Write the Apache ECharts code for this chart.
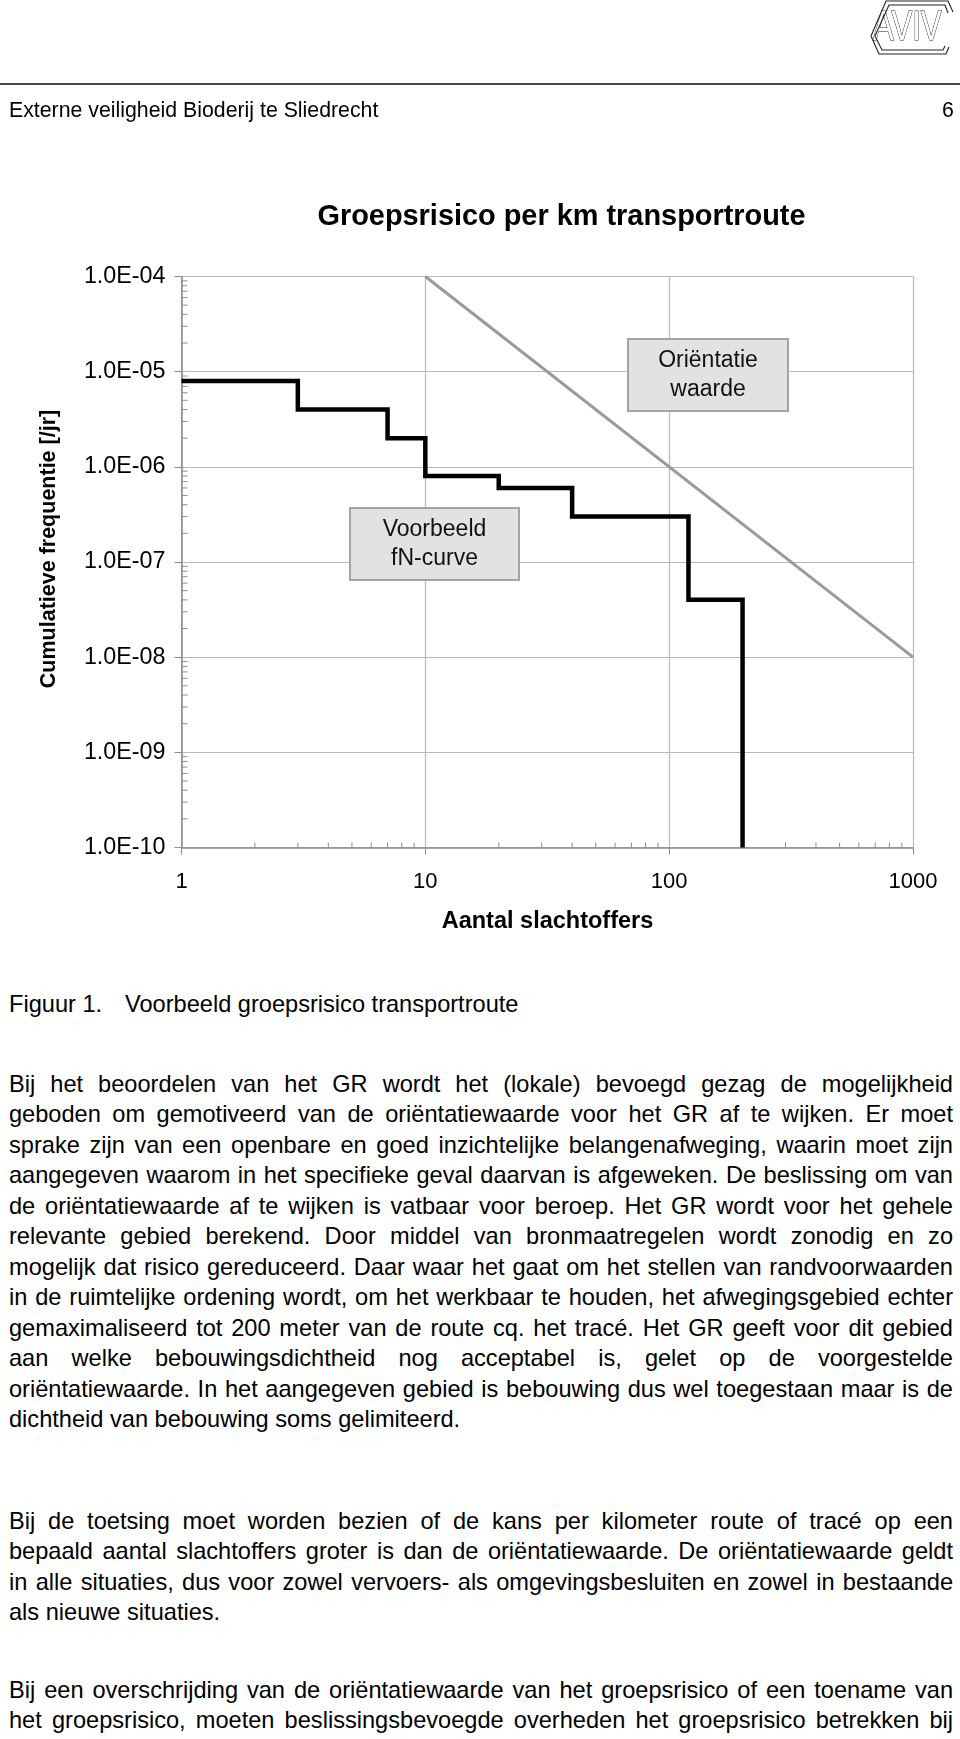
<!DOCTYPE html>
<html>
<head>
<meta charset="utf-8">
<script src="https://cdn.jsdelivr.net/npm/echarts@6/dist/echarts.min.js"></script>
<style>
  html, body { margin: 0; padding: 0; background: #fff; }
  body { width: 960px; height: 1739px; position: relative; overflow: hidden;
         font-family: "Liberation Sans", Arial, Helvetica, sans-serif; color: #000; }
  #chart { position: absolute; left: 0; top: 0; width: 960px; height: 960px; }
  .hdrline { position: absolute; left: 0; top: 83px; width: 960px; height: 2px; background: #444; }
  .hdr { position: absolute; top: 97px; font-size: 21.3px; line-height: 26px; white-space: nowrap; }
  .para { position: absolute; left: 9px; width: 944px; font-size: 23.6px; line-height: 30.45px; }
  .para div { white-space: nowrap; }
  .para .j { text-align: justify; text-align-last: justify; }
  .fig { position: absolute; top: 989px; font-size: 23.6px; line-height: 30.4px; white-space: nowrap; }
</style>
</head>
<body>
<div id="chart"></div>
<div class="hdrline"></div>
<div class="hdr" style="left:9px">Externe veiligheid Bioderij te Sliedrecht</div>
<div class="hdr" style="left:942px">6</div>
<div class="fig" style="left:9px">Figuur 1.</div>
<div class="fig" style="left:125px">Voorbeeld groepsrisico transportroute</div>

<div class="para" style="top:1069px">
  <div class="j">Bij het beoordelen van het GR wordt het (lokale) bevoegd gezag de mogelijkheid</div>
  <div class="j">geboden om gemotiveerd van de oriëntatiewaarde voor het GR af te wijken. Er moet</div>
  <div class="j">sprake zijn van een openbare en goed inzichtelijke belangenafweging, waarin moet zijn</div>
  <div class="j">aangegeven waarom in het specifieke geval daarvan is afgeweken. De beslissing om van</div>
  <div class="j">de oriëntatiewaarde af te wijken is vatbaar voor beroep. Het GR wordt voor het gehele</div>
  <div class="j">relevante gebied berekend. Door middel van bronmaatregelen wordt zonodig en zo</div>
  <div class="j">mogelijk dat risico gereduceerd. Daar waar het gaat om het stellen van randvoorwaarden</div>
  <div class="j">in de ruimtelijke ordening wordt, om het werkbaar te houden, het afwegingsgebied echter</div>
  <div class="j">gemaximaliseerd tot 200 meter van de route cq. het tracé. Het GR geeft voor dit gebied</div>
  <div class="j">aan welke bebouwingsdichtheid nog acceptabel is, gelet op de voorgestelde</div>
  <div class="j">oriëntatiewaarde. In het aangegeven gebied is bebouwing dus wel toegestaan maar is de</div>
  <div>dichtheid van bebouwing soms gelimiteerd.</div>
</div>

<div class="para" style="top:1506px">
  <div class="j">Bij de toetsing moet worden bezien of de kans per kilometer route of tracé op een</div>
  <div class="j">bepaald aantal slachtoffers groter is dan de oriëntatiewaarde. De oriëntatiewaarde geldt</div>
  <div class="j">in alle situaties, dus voor zowel vervoers- als omgevingsbesluiten en zowel in bestaande</div>
  <div>als nieuwe situaties.</div>
</div>

<div class="para" style="top:1674.5px">
  <div class="j">Bij een overschrijding van de oriëntatiewaarde van het groepsrisico of een toename van</div>
  <div class="j">het groepsrisico, moeten beslissingsbevoegde overheden het groepsrisico betrekken bij</div>
</div>

<script>
// ---- data ----
const chartTitle = 'Groepsrisico per km transportroute';
const xAxisTitle = 'Aantal slachtoffers';
const yAxisTitle = 'Cumulatieve frequentie [/jr]';

// fN-curve (step): number of victims N and cumulative frequency from that N on
const fnN = [1, 3, 7, 10, 20, 40, 120, 200];
const fnF = [8e-6, 4e-6, 2e-6, 8e-7, 6e-7, 3e-7, 4e-8, 1e-10];

// Oriëntatiewaarde line
const owN = [10, 1000];
const owF = [1e-4, 1e-8];

// axis tick labels
const xTickLabels = ['1', '10', '100', '1000'];
const yTickLabels = ['1.0E-10', '1.0E-09', '1.0E-08', '1.0E-07', '1.0E-06', '1.0E-05', '1.0E-04'];
const xDecades = [1, 10, 100];
const yDecades = [1e-10, 1e-9, 1e-8, 1e-7, 1e-6, 1e-5];
const minorMultipliers = [2, 3, 4, 5, 6, 7, 8, 9];

// box labels
const fnBoxLines = ['Voorbeeld', 'fN-curve'];
const owBoxLines = ['Oriëntatie', 'waarde'];

// ---- build ----
const FONT = '"Liberation Sans", Arial, Helvetica, sans-serif';
const xMin = 1, xMax = 1000, yMin = 1e-10, yMax = 1e-4;

const fnData = fnN.map((n, i) => [n, fnF[i]]);
const owData = owN.map((n, i) => [n, owF[i]]);
const yMinorData = [];
yDecades.forEach(d => minorMultipliers.forEach(m => yMinorData.push([xMin, d * m])));
const xMinorData = [];
xDecades.forEach(d => minorMultipliers.forEach(m => xMinorData.push([d * m, yMin])));

const chart = echarts.init(document.getElementById('chart'), null, { renderer: 'canvas' });

function boxGraphic(x, y, w, h, lines, lineH) {
  const children = [{
    type: 'rect', z: 100, shape: { x: x, y: y, width: w, height: h },
    style: { fill: '#e2e2e2', stroke: '#a3a3a3', lineWidth: 2 }
  }];
  const cy = y + h / 2;
  lines.forEach((t, i) => {
    children.push({
      type: 'text', z: 101, x: x + w / 2, y: cy + (i - (lines.length - 1) / 2) * lineH,
      style: { text: t, font: '23px ' + FONT, fill: '#111', align: 'center', verticalAlign: 'middle' }
    });
  });
  return { type: 'group', children: children };
}

const option = {
  animation: false,
  backgroundColor: 'transparent',
  grid: { left: 181.5, right: 47, top: 276.5, bottom: 112.5, containLabel: false },
  xAxis: {
    type: 'log', logBase: 10, min: xMin, max: xMax,
    axisLine: { show: true, lineStyle: { color: '#8c8c8c', width: 1.5 } },
    axisTick: { show: true, length: 7, inside: false, lineStyle: { color: '#8c8c8c' } },
    axisLabel: {
      margin: 23, color: '#000', fontSize: 22, fontFamily: FONT,
      formatter: v => xTickLabels[Math.round(Math.log10(v))]
    },
    splitLine: { show: true, lineStyle: { color: '#b9b9b9', width: 1.2 } },
    minorTick: { show: false }
  },
  yAxis: {
    type: 'log', logBase: 10, min: yMin, max: yMax,
    axisLine: { show: true, lineStyle: { color: '#8c8c8c', width: 1.5 } },
    axisTick: { show: true, length: 7, inside: false, lineStyle: { color: '#8c8c8c' } },
    axisLabel: {
      margin: 16, color: '#000', fontSize: 23.3, fontFamily: FONT,
      formatter: v => yTickLabels[Math.round(Math.log10(v)) + 10]
    },
    splitLine: { show: true, lineStyle: { color: '#b9b9b9', width: 1.2 } }
  },
  series: [
    {
      name: 'Oriëntatiewaarde', type: 'line', data: owData, symbol: 'none',
      lineStyle: { color: '#9a9a9a', width: 3 }, z: 5, clip: false
    },
    {
      name: 'fN-curve', type: 'line', step: 'end', data: fnData, symbol: 'none',
      lineStyle: { color: '#000', width: 4.5, join: 'miter', cap: 'butt' }, z: 6, clip: false
    },
    {
      name: 'yMinor', type: 'custom', data: yMinorData, silent: true, clip: false, z: 3,
      renderItem: (params, api) => {
        const p = api.coord([api.value(0), api.value(1)]);
        return { type: 'line', shape: { x1: p[0], y1: p[1], x2: p[0] + 6, y2: p[1] },
                 style: { stroke: '#8c8c8c', lineWidth: 1 } };
      }
    },
    {
      name: 'xMinor', type: 'custom', data: xMinorData, silent: true, clip: false, z: 3,
      renderItem: (params, api) => {
        const p = api.coord([api.value(0), api.value(1)]);
        return { type: 'line', shape: { x1: p[0], y1: p[1], x2: p[0], y2: p[1] - 5 },
                 style: { stroke: '#8c8c8c', lineWidth: 1 } };
      }
    }
  ],
  graphic: [
    { type: 'text', x: 561.5, y: 217, z: 60,
      style: { text: chartTitle, font: 'bold 28.9px ' + FONT, fill: '#000', align: 'center', verticalAlign: 'middle' } },
    { type: 'text', x: 547.5, y: 922, z: 60,
      style: { text: xAxisTitle, font: 'bold 23.5px ' + FONT, fill: '#000', align: 'center', verticalAlign: 'middle' } },
    { type: 'text', x: 49, y: 549, rotation: Math.PI / 2, z: 60,
      style: { text: yAxisTitle, font: 'bold 21.5px ' + FONT, fill: '#000', align: 'center', verticalAlign: 'middle' } },
    boxGraphic(350, 508, 169, 72, fnBoxLines, 29.5),
    boxGraphic(628, 339, 160, 72, owBoxLines, 28.5),
    // AVIV logo
    { type: 'group', children: [
      { type: 'text', z: 60, x: 873, y: 28, scaleX: 0.74,
        style: { text: 'AVIV', font: '42px ' + FONT, fill: '#fff', stroke: '#222', lineWidth: 1.1,
                 align: 'left', verticalAlign: 'middle' } },
      { type: 'polyline', z: 60, shape: { points: [[953, 12], [948, 1], [886, 1], [871, 36], [879, 54], [946, 54], [949, 47]] },
        style: { stroke: '#222', lineWidth: 1.1, fill: null } },
      { type: 'polyline', z: 60, shape: { points: [[948, 13], [945, 5], [889, 5], [875, 36], [882, 50], [943, 50], [945, 46]] },
        style: { stroke: '#222', lineWidth: 1.1, fill: null } }
    ] }
  ]
};
chart.setOption(option);
</script>
</body>
</html>
